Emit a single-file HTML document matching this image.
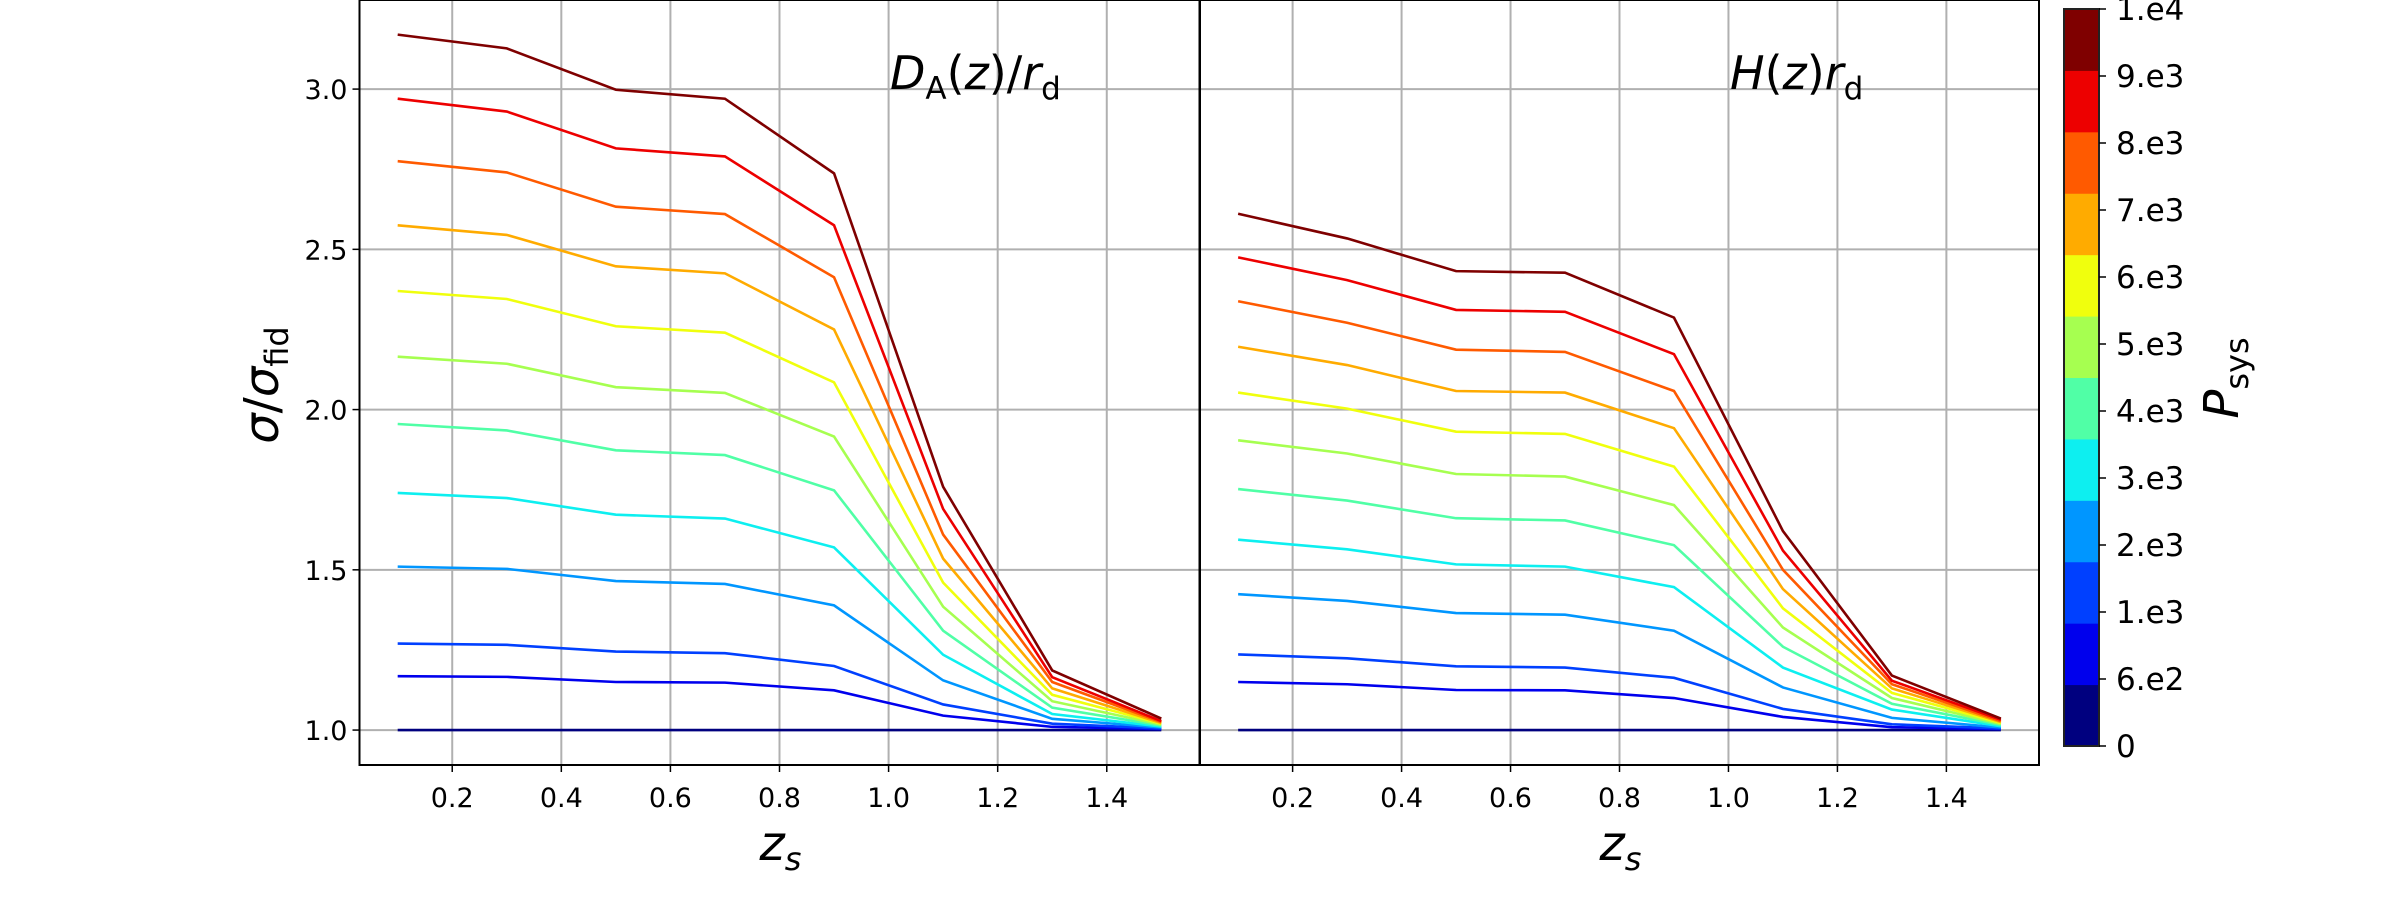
<!DOCTYPE html>
<html><head><meta charset="utf-8"><style>
html,body{margin:0;padding:0;background:#fff;}
svg{display:block;font-family:"DejaVu Sans","Liberation Sans",sans-serif;}
</style></head><body>
<svg id="chart" width="2400" height="900" viewBox="0 0 2400 900" xmlns="http://www.w3.org/2000/svg"></svg>
<script>
const zs = [0.1,0.3,0.5,0.7,0.9,1.1,1.3,1.5];
const xTicks = [0.2,0.4,0.6,0.8,1.0,1.2,1.4];
const yTicks = [1.0,1.5,2.0,2.5,3.0];
const cbLabels = ["0","6.e2","1.e3","2.e3","3.e3","4.e3","5.e3","6.e3","7.e3","8.e3","9.e3","1.e4"];
const lineColors = ["#00007f","#0000ed","#0040ff","#0096ff","#0deff0","#50ffa6","#a6ff50","#f0ff0d","#ffab00","#ff5a00","#ed0000","#7f0000"];
const cbColors = ["#00007f","#0000ed","#0040ff","#0096ff","#0deff0","#50ffa6","#a6ff50","#f0ff0d","#ffab00","#ff5a00","#ed0000","#7f0000"];
// left panel D_A(z)/r_d, bottom (Psys=0) to top
const daSeries = [
 [1,1,1,1,1,1,1,1],
 [1.168,1.166,1.15,1.148,1.124,1.045,1.01,1.003],
 [1.27,1.266,1.245,1.24,1.2,1.08,1.02,1.005],
 [1.51,1.503,1.465,1.456,1.389,1.155,1.035,1.008],
 [1.74,1.724,1.672,1.66,1.57,1.235,1.05,1.011],
 [1.955,1.935,1.873,1.858,1.748,1.31,1.07,1.014],
 [2.165,2.143,2.07,2.052,1.916,1.385,1.09,1.017],
 [2.37,2.345,2.26,2.24,2.085,1.46,1.11,1.02],
 [2.575,2.545,2.447,2.425,2.25,1.535,1.13,1.022],
 [2.775,2.74,2.633,2.61,2.413,1.61,1.15,1.025],
 [2.97,2.93,2.815,2.79,2.575,1.69,1.165,1.028],
 [3.17,3.127,2.998,2.97,2.737,1.759,1.186,1.036]
];
// right panel H(z) r_d
const hSeries = [
 [1,1,1,1,1,1,1,1],
 [1.15,1.143,1.125,1.124,1.10,1.041,1.009,1.003],
 [1.236,1.224,1.199,1.195,1.163,1.066,1.018,1.005],
 [1.424,1.403,1.365,1.36,1.31,1.133,1.038,1.008],
 [1.594,1.564,1.517,1.51,1.446,1.195,1.064,1.012],
 [1.752,1.716,1.661,1.654,1.577,1.26,1.082,1.016],
 [1.904,1.863,1.799,1.791,1.702,1.32,1.10,1.019],
 [2.053,2.003,1.931,1.924,1.822,1.38,1.116,1.022],
 [2.196,2.139,2.058,2.053,1.942,1.44,1.13,1.025],
 [2.338,2.271,2.187,2.18,2.058,1.50,1.143,1.028],
 [2.475,2.404,2.311,2.305,2.173,1.56,1.154,1.032],
 [2.611,2.534,2.432,2.427,2.287,1.621,1.17,1.036]
];

const NS="http://www.w3.org/2000/svg";
const svg=document.getElementById('chart');
function mk(tag,attrs,parent){const e=document.createElementNS(NS,tag);for(const k in attrs)e.setAttribute(k,attrs[k]);(parent||svg).appendChild(e);return e;}
const X0=0.03,X1=1.57,Y0=0.891,Y1=3.278,TOP=0,BOT=765;
function yS(v){return BOT-(v-Y0)/(Y1-Y0)*(BOT-TOP);}

function panel(left,right,series,name,title,titleX,showY){
  const g=mk('g',{});
  
  
  const xS=v=>left+(v-X0)/(X1-X0)*(right-left);
  xTicks.forEach(t=>{const l=mk('line',{x1:xS(t),x2:xS(t),y1:TOP,y2:BOT,stroke:'#b0b0b0','stroke-width':2},g);
    
    mk('line',{x1:xS(t),x2:xS(t),y1:BOT,y2:BOT+7,stroke:'#000','stroke-width':1.5},g);
    const tx=mk('text',{x:xS(t),y:BOT+42,'font-size':27,'text-anchor':'middle'},g);tx.textContent=t.toFixed(1);
    });
  yTicks.forEach(t=>{const l=mk('line',{x1:left,x2:right,y1:yS(t),y2:yS(t),stroke:'#b0b0b0','stroke-width':2},g);
    
    if(showY){mk('line',{x1:left-7,x2:left,y1:yS(t),y2:yS(t),stroke:'#000','stroke-width':1.5},g);
      const tx=mk('text',{x:left-12,y:yS(t)+10,'font-size':27,'text-anchor':'end'},g);tx.textContent=t.toFixed(1);
      }});
  series.forEach((s,i)=>{const p=mk('polyline',{points:s.map((v,j)=>xS(zs[j])+','+yS(v)).join(' '),fill:'none',stroke:lineColors[i],'stroke-width':2.6},g);
    });
  const r=mk('rect',{x:left,y:TOP,width:right-left,height:BOT-TOP,fill:'none',stroke:'#000','stroke-width':2},g);
  
  const t=mk('text',{x:titleX,y:89,'font-size':46},g);t.innerHTML=title;
  
  const xl=mk('text',{x:(left+right)/2-20,y:860,'font-size':48,'font-style':'italic'},g);
  xl.innerHTML='z<tspan font-size="32" dy="10">s</tspan>';
  
}
panel(359.5,1199.5,daSeries,'da','<tspan font-style="italic">D</tspan><tspan font-size="31" dy="10">A</tspan><tspan dy="-10">(</tspan><tspan font-style="italic">z</tspan>)/<tspan font-style="italic">r</tspan><tspan font-size="31" dy="10">d</tspan>',890,true);
panel(1200,2039,hSeries,'h','<tspan font-style="italic">H</tspan>(<tspan font-style="italic">z</tspan>)<tspan font-style="italic">r</tspan><tspan font-size="31" dy="10">d</tspan>',1730,false);

const yl=mk('text',{transform:'translate(278,385) rotate(-90)','font-size':48,'text-anchor':'middle'});
yl.innerHTML='<tspan font-style="italic">σ</tspan>/<tspan font-style="italic">σ</tspan><tspan font-size="32" dy="10">fid</tspan>';


// colorbar: 12 equal colour bins, 12 labels evenly spaced over 11 intervals
const cbG=mk('g',{});

const CX=2064,CW=35,CT=9,CB=746,nb=cbColors.length,bh=(CB-CT)/nb;
for(let i=0;i<nb;i++){const r=mk('rect',{x:CX,y:CB-(i+1)*bh,width:CW,height:bh+0.5,fill:cbColors[i]},cbG);
  }
mk('rect',{x:CX,y:CT,width:CW,height:CB-CT,fill:'none',stroke:'#222','stroke-width':2},cbG);
const lh=(CB-CT)/(cbLabels.length-1);
cbLabels.forEach((lab,i)=>{const y=CB-i*lh;mk('line',{x1:CX+CW,x2:CX+CW+7,y1:y,y2:y,stroke:'#000','stroke-width':1.5},cbG);
  const t=mk('text',{x:2116,y:y+11,'font-size':31},cbG);t.textContent=lab;
  });
const pl=mk('text',{transform:'translate(2238,378) rotate(-90)','font-size':48,'text-anchor':'middle'});
pl.innerHTML='<tspan font-style="italic">P</tspan><tspan font-size="32" dy="10">sys</tspan>';

</script>
</body></html>
